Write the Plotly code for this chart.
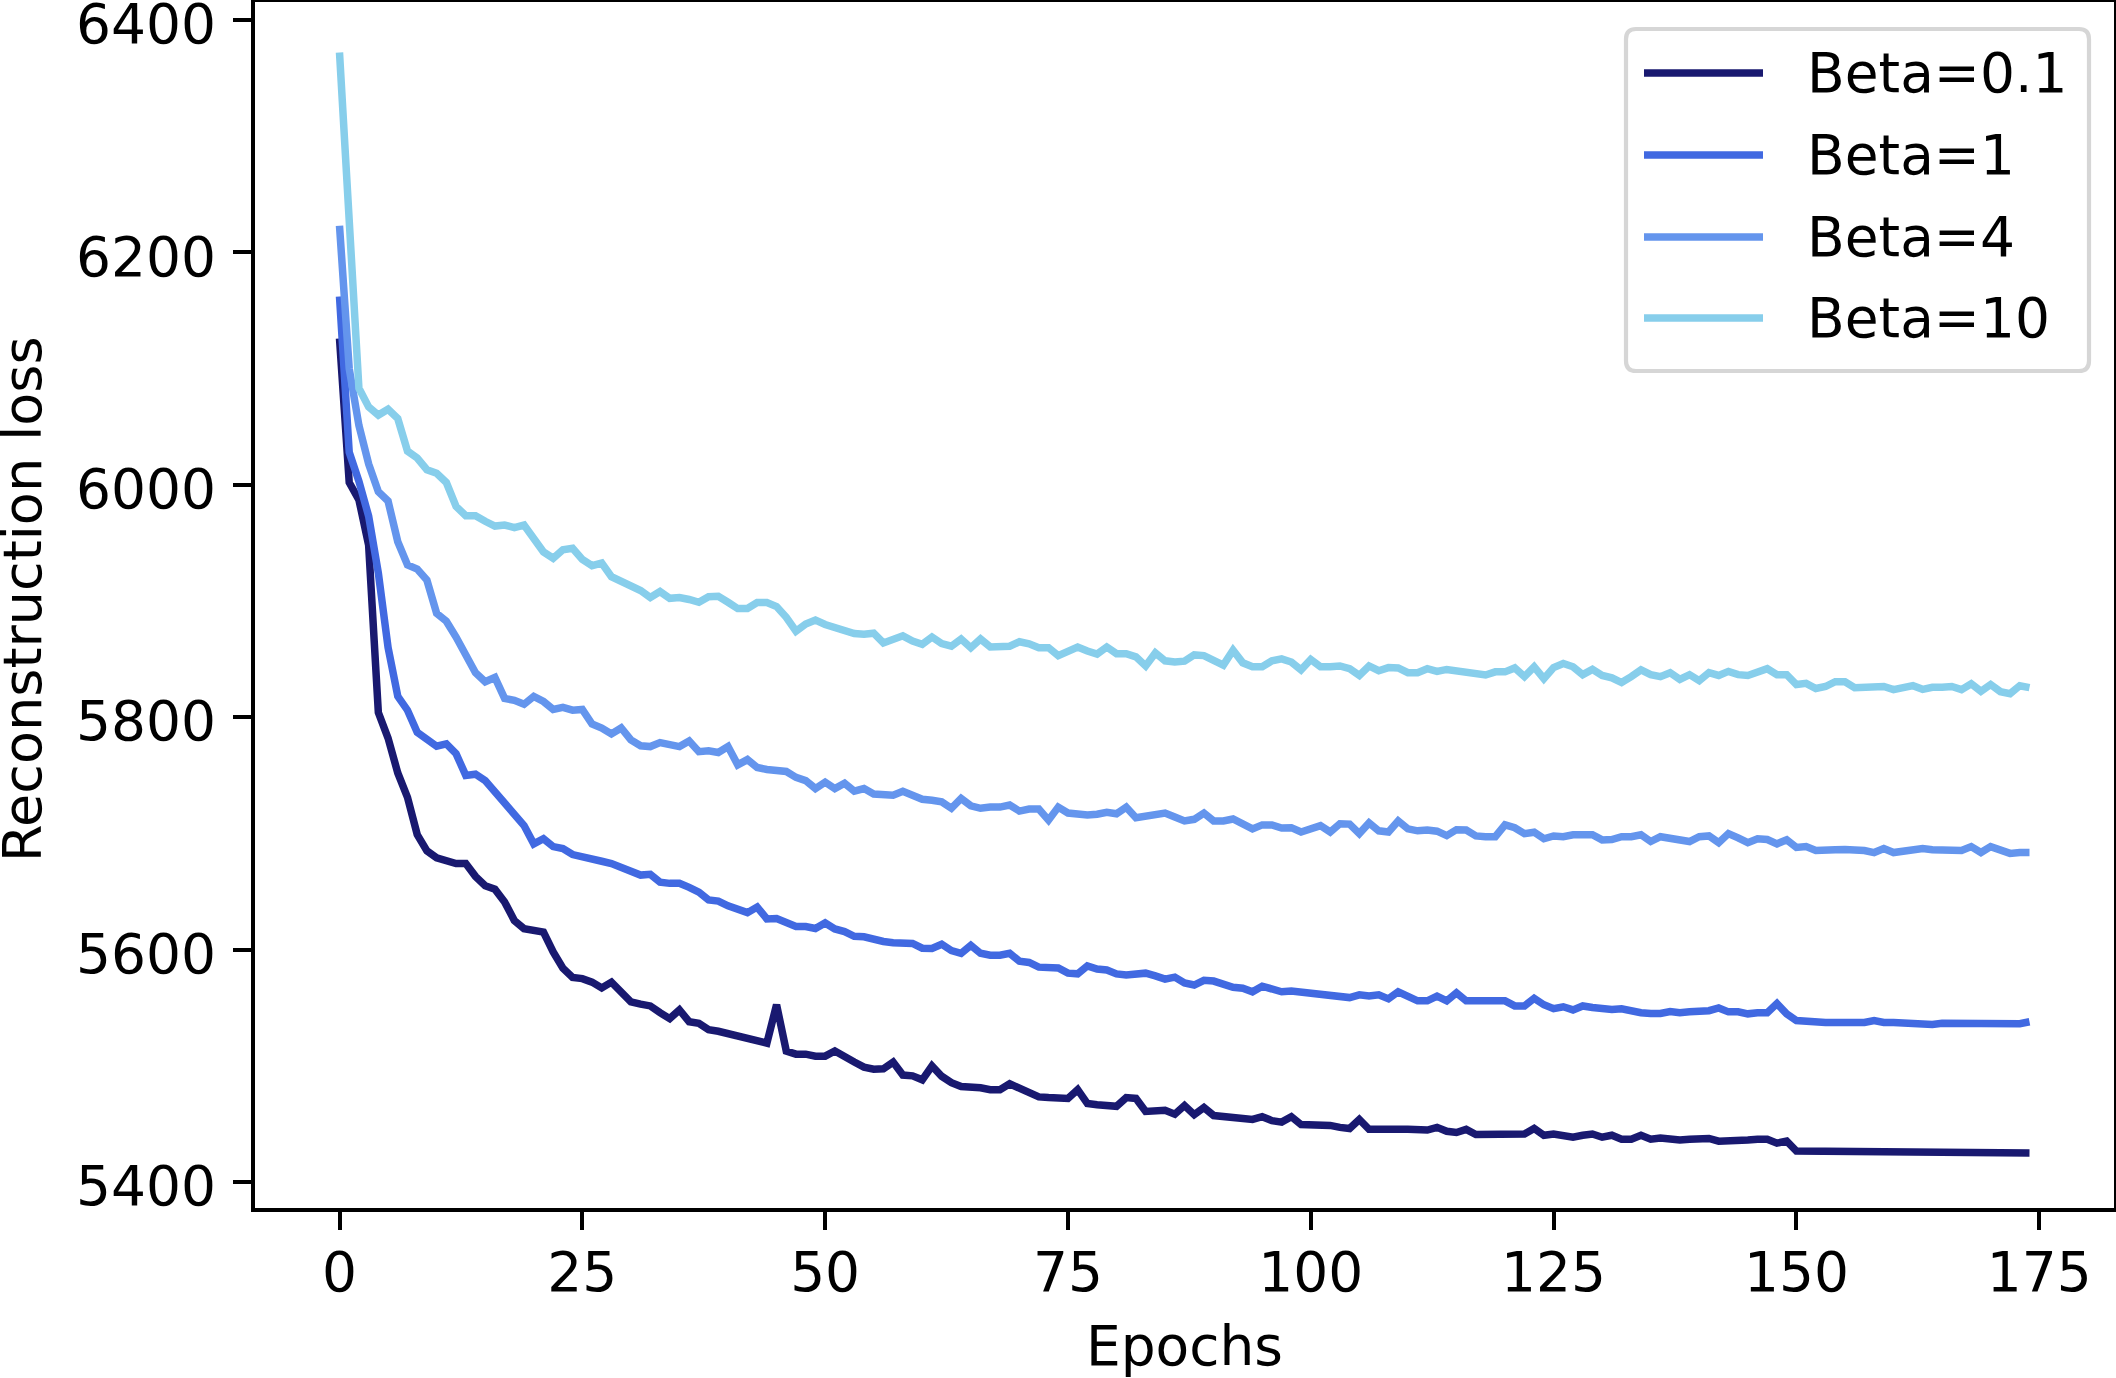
import plotly.graph_objects as go

# ---------------- data ----------------
epochs = list(range(175))

series_names = ["Beta=0.1", "Beta=1", "Beta=4", "Beta=10"]
series_colors = ["#191970", "#4169E1", "#6495ED", "#87CEEB"]

beta_0_1 = [
    6126, 6002, 5987, 5948, 5804, 5782, 5752, 5731, 5699, 5685,
    5679, 5677, 5674, 5674, 5663, 5655, 5652, 5641, 5625, 5618,
    5617, 5615, 5598, 5584, 5576, 5575, 5572, 5567, 5572, 5563,
    5555, 5553, 5551.5, 5545.7, 5540.6, 5548.1, 5537.9, 5536.5, 5531.1, 5529.7,
    5527.7, 5526, 5524.3, 5522.6, 5519.5, 5552.5, 5512.7, 5510, 5510, 5508.3,
    5508.3, 5512.7, 5507.3, 5503.2, 5498.8, 5497.1, 5497.4, 5503.2, 5492, 5491.3,
    5487.9, 5499.8, 5491, 5485.5, 5482.1, 5482.1, 5481.1, 5479.4, 5479.4, 5484.5,
    5481.1, 5476, 5473.2, 5472.6, 5471.5, 5471.9, 5479.4, 5467.5, 5466.4, 5465.8,
    5465.1, 5472.6, 5471.9, 5460.7, 5460.7, 5461.7, 5458.3, 5465.8, 5457.9, 5464.1,
    5457.2, 5456.2, 5456, 5453.8, 5453.8, 5456.2, 5452.8, 5451.5, 5456.2, 5449.4,
    5449.4, 5449.8, 5448.7, 5447, 5446, 5453.8, 5445.3, 5445.3, 5446, 5445.3,
    5445.3, 5444.7, 5444.7, 5447, 5443.6, 5442.6, 5445.3, 5440.9, 5440.9, 5440.9,
    5440.3, 5440.3, 5441.3, 5446, 5440.2, 5441.3, 5440.2, 5438.5, 5440.2, 5441.3,
    5438.5, 5440.2, 5436.8, 5436.8, 5440.2, 5436.8, 5437.9, 5436.8, 5436.2, 5436.8,
    5436.8, 5437.5, 5435.1, 5435.1, 5435.1, 5436.2, 5436.8, 5436.8, 5433.4, 5435.1,
    5426.6, 5426.6, 5426.5, 5426.4, 5426.3, 5426.2, 5426.1, 5426.0, 5425.9, 5425.9,
    5425.8, 5425.7, 5425.7, 5425.6, 5425.6, 5425.5, 5425.5, 5425.4, 5425.4, 5425.3,
    5425.3, 5425.2, 5425.2, 5425.1, 5425.0,
]

beta_1 = [
    6162, 6028, 6003, 5973, 5924, 5860, 5818, 5806, 5787, 5780,
    5775, 5777, 5768.6, 5749.9, 5750.9, 5745.4, 5736.3, 5727, 5715.8, 5706.7,
    5691, 5695.4, 5688.6, 5686.9, 5681.8, 5679.4, 5677.7, 5676, 5674, 5670.6,
    5665.8, 5664.1, 5664.8, 5658, 5657, 5657, 5653.6, 5649.5, 5642.7, 5641.7,
    5637.6, 5634.9, 5631.8, 5636.6, 5626.4, 5626.7, 5623.3, 5619.9, 5619.9, 5618.2,
    5622.9, 5617.8, 5615.5, 5611.4, 5611, 5608.7, 5607, 5605.9, 5605.3, 5605.3,
    5601.2, 5601, 5604.6, 5599.1, 5596.8, 5603.6, 5596.8, 5595.1, 5595.1, 5596.8,
    5590, 5588.9, 5584.9, 5583.8, 5584.2, 5579.7, 5579.1, 5585.9, 5583.2, 5582.5,
    5579.1, 5578.1, 5579.1, 5579.7, 5577.4, 5574.6, 5576.3, 5571.2, 5569.5, 5573.6,
    5572.9, 5569.5, 5567.5, 5566.8, 5563.7, 5568.5, 5566.1, 5563.7, 5564.4, 5563.4,
    5562.7, 5561, 5559.3, 5559.3, 5558.7, 5561, 5560, 5561, 5557.6, 5563.7,
    5560, 5555.9, 5555.9, 5560, 5555.9, 5562.7, 5555.9, 5555.9, 5555.2, 5555.2,
    5555.9, 5551.5, 5551.5, 5558, 5552.5, 5549.1, 5550.8, 5548.1, 5551.5, 5550.1,
    5549.1, 5548.4, 5549.1, 5546.7, 5545.7, 5545, 5545, 5546.7, 5545.7, 5546.4,
    5546.4, 5547.4, 5549.8, 5546.4, 5546.4, 5544.7, 5545.7, 5545.7, 5553.5, 5544.7,
    5538.9, 5537.9, 5537.2, 5537.2, 5537.2, 5537.2, 5537.2, 5537.2, 5538.9, 5537.2,
    5537.2, 5536.5, 5536.2, 5536.2, 5535.5, 5536.5, 5536.5, 5536.5, 5536.5, 5536.5,
    5536.2, 5535.5, 5535.5, 5536.2, 5537.9,
]

beta_4 = [
    6223, 6100, 6051, 6018, 5994, 5986, 5951, 5931, 5927.5, 5918,
    5889.4, 5882.6, 5869, 5852, 5838.3, 5830.5, 5834.2, 5816.2, 5814.5, 5811.1,
    5817.9, 5813.5, 5806.7, 5808.4, 5806, 5806.7, 5794.1, 5790.7, 5785.6, 5790.7,
    5780.5, 5775.4, 5774.7, 5778.1, 5777.1, 5774.7, 5779.5, 5770.3, 5771, 5769.6,
    5774.7, 5759, 5763.5, 5756.7, 5755, 5754.3, 5753.3, 5748.2, 5745.4, 5738.6,
    5744.1, 5738.6, 5743.1, 5736.3, 5738.6, 5733.9, 5732.9, 5732.9, 5736.3, 5732.9,
    5729.4, 5728.5, 5727.1, 5721.6, 5730.1, 5723.7, 5721.6, 5722.6, 5722.6, 5724.4,
    5719.2, 5720.9, 5720.9, 5711.4, 5722.6, 5717.5, 5716.5, 5715.8, 5716.5, 5718.2,
    5716.9, 5722.6, 5713.5, 5714.8, 5715.2, 5717.5, 5714.1, 5710.7, 5712.1, 5717.5,
    5710.7, 5710.7, 5712.4, 5709, 5703.9, 5707.3, 5707.3, 5704.6, 5704.9, 5701.2,
    5704.6, 5706.6, 5701.2, 5708.3, 5708, 5699.8, 5709, 5702.2, 5701.2, 5710.7,
    5703.9, 5702.2, 5702.9, 5701.9, 5698.1, 5703.2, 5702.9, 5697.8, 5697.1, 5697.1,
    5707.3, 5704.9, 5699.8, 5701, 5695.4, 5697.8, 5697.1, 5698.8, 5698.8, 5698.8,
    5694.4, 5694.7, 5697.1, 5697.1, 5698.8, 5693, 5697.1, 5696.1, 5695.4, 5693,
    5697.1, 5697.8, 5692, 5699.8, 5696.1, 5692, 5695.4, 5694.7, 5691, 5694.4,
    5687.9, 5688.6, 5685.2, 5686.2, 5685.9, 5686.2, 5686.2, 5685.2, 5683.5, 5686.9,
    5683.5, 5684.5, 5685.2, 5686.9, 5685.9, 5685.9, 5684.5, 5685.2, 5688.6, 5683.5,
    5688.6, 5685.9, 5682.8, 5683.5, 5683.5,
]

beta_10 = [
    6372, 6228, 6083, 6067, 6060, 6065, 6057, 6029, 6023, 6013,
    6010, 6002, 5981.4, 5973.4, 5973.4, 5968.6, 5964.5, 5965.4, 5963.2, 5965.4,
    5954.3, 5942.2, 5936.8, 5944.1, 5945.4, 5935.8, 5930.4, 5932.6, 5920.9, 5916.7,
    5914.2, 5909, 5903, 5908.1, 5902.3, 5903, 5901.3, 5898.9, 5903.7, 5904,
    5898.9, 5893.5, 5893.5, 5898.6, 5898.6, 5895.2, 5886, 5874, 5880.2, 5883.6,
    5879.8, 5876.8, 5874, 5872, 5871.3, 5872.3, 5863.9, 5866.2, 5870, 5865.5,
    5862.8, 5869, 5863.3, 5861.1, 5867.3, 5859.8, 5867.3, 5860.4, 5861.1, 5861.1,
    5864.9, 5863.2, 5859.8, 5859.8, 5853, 5856, 5860.4, 5857, 5854.3, 5860.4,
    5854.7, 5854.7, 5851.9, 5844.1, 5855.3, 5848.5, 5847.5, 5848.2, 5853.6, 5853,
    5849.2, 5844.8, 5857.7, 5846.8, 5843.4, 5843.4, 5848.5, 5850.2, 5847.5, 5840.7,
    5849.6, 5843.4, 5843.4, 5844.1, 5841.7, 5836, 5844.1, 5840, 5842.7, 5842.4,
    5838.3, 5838.3, 5841.7, 5839.4, 5841.1, 5840, 5838.3, 5837.3, 5836.3, 5839,
    5839, 5842.4, 5834.9, 5843.4, 5833.2, 5842.7, 5846.2, 5843.4, 5836.6, 5841.1,
    5835.9, 5833.9, 5829.8, 5834.9, 5840.7, 5836.6, 5834.9, 5838.3, 5832.5, 5836.6,
    5831.5, 5838.3, 5835.9, 5839.4, 5836.6, 5835.9, 5839.4, 5841.7, 5836.6, 5836.6,
    5828.1, 5829.1, 5824.7, 5826.4, 5830.5, 5830.5, 5825.4, 5825.4, 5825.7, 5826.4,
    5823.7, 5825.7, 5827.1, 5824, 5825.7, 5825.7, 5826.4, 5823.7, 5828.8, 5822.3,
    5828.1, 5822, 5820.3, 5827.1, 5825.4,
]

series_values = [beta_0_1, beta_1, beta_4, beta_10]

x_ticks = [0, 25, 50, 75, 100, 125, 150, 175]
y_ticks = [5400, 5600, 5800, 6000, 6200, 6400]
x_title = "Epochs"
y_title = "Reconstruction loss"

# ---------------- layout constants ----------------
W, H = 2116, 1378
ML, MR, MT, MB = 255, 2, 2, 170
PW, PH = W - ML - MR, H - MT - MB
FONT = "DejaVu Sans"
FS = 55
LW = 7.5
AXW = 4


def px(xp):
    return (xp - ML) / PW


def py(yp):
    return 1 - (yp - MT) / PH


fig = go.Figure()
for name, color, vals in zip(series_names, series_colors, series_values):
    fig.add_trace(go.Scatter(
        x=epochs, y=vals, mode="lines", name=name,
        line=dict(color=color, width=LW), showlegend=False,
    ))

axis_common = dict(
    showgrid=False, zeroline=False, showline=True, mirror=True,
    linecolor="black", linewidth=AXW, ticks="outside", ticklen=18,
    tickwidth=AXW, tickcolor="black", ticklabeloverflow="allow",
    tickfont=dict(family=FONT, size=FS, color="black"),
)

fig.update_xaxes(range=[-8.7, 182.7], tickvals=x_ticks, ticklabelstandoff=-5,
                 title=dict(text=x_title, font=dict(family=FONT, size=FS, color="black"), standoff=28),
                 **axis_common)
fig.update_yaxes(range=[5377.6, 6415.5], tickvals=y_ticks, ticklabelstandoff=6,
                 ticklabelshift=4, **axis_common)

annotations = [dict(text=y_title, xref="paper", yref="paper",
                    x=px(22), y=py(599), xanchor="center", yanchor="middle",
                    textangle=-90, showarrow=False,
                    font=dict(family=FONT, size=54, color="black"))]

# ---------------- manual legend (matplotlib style) ----------------
bx0, bx1, by0, by1, r = 1626, 2089, 29, 371, 10
rx, ry = r / PW, r / PH
X0, X1, Y0, Y1 = px(bx0), px(bx1), py(by0), py(by1)
path = (f"M {X0+rx},{Y0} L {X1-rx},{Y0} Q {X1},{Y0} {X1},{Y0-ry} "
        f"L {X1},{Y1+ry} Q {X1},{Y1} {X1-rx},{Y1} "
        f"L {X0+rx},{Y1} Q {X0},{Y1} {X0},{Y1+ry} "
        f"L {X0},{Y0-ry} Q {X0},{Y0} {X0+rx},{Y0} Z")
shapes = [dict(type="path", path=path, xref="paper", yref="paper",
               line=dict(color="#d6d6d6", width=4.2), fillcolor="rgba(255,255,255,0.8)",
               layer="above")]
row_y = [73, 155, 237, 318]
for name, color, yy in zip(series_names, series_colors, row_y):
    shapes.append(dict(type="line", xref="paper", yref="paper",
                       x0=px(1644), x1=px(1763), y0=py(yy), y1=py(yy),
                       line=dict(color=color, width=LW), layer="above"))
    annotations.append(dict(text=name, xref="paper", yref="paper",
                            x=px(1805), y=py(yy), xanchor="left", yanchor="middle",
                            showarrow=False,
                            font=dict(family=FONT, size=FS, color="black")))

fig.update_layout(
    width=W, height=H,
    margin=dict(l=ML, r=MR, t=MT, b=MB, autoexpand=False),
    plot_bgcolor="white", paper_bgcolor="white",
    shapes=shapes, annotations=annotations, showlegend=False,
    font=dict(family=FONT, size=FS, color="black"),
)

fig.write_html("out.html", config={"displayModeBar": False},
               post_script="document.body.style.margin='0px';document.body.style.padding='0px';document.body.style.overflow='hidden';")
